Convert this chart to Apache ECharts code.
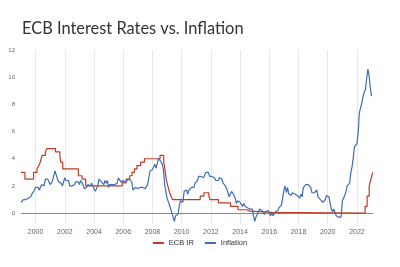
<!DOCTYPE html>
<html>
<head>
<meta charset="utf-8">
<script src="https://cdn.jsdelivr.net/npm/echarts@6/dist/echarts.min.js"></script>
<style>
  html, body { margin: 0; padding: 0; background: #fff; }
  #chart { width: 400px; height: 267px; }
</style>
</head>
<body>
<div id="chart"></div>
<script>
// ECB main refinancing rate: dates of each change (fractional year) and the new rate
const rateDates = [
  1999.0, 1999.27, 1999.86, 2000.09, 2000.22, 2000.32, 2000.44, 2000.67, 2000.77,
  2001.36, 2001.66, 2001.72, 2001.86, 2002.93, 2003.18, 2003.43,
  2005.93, 2006.19, 2006.44, 2006.6, 2006.77, 2006.94, 2007.19, 2007.45,
  2008.52, 2008.77, 2008.85, 2008.94, 2009.05, 2009.18, 2009.27, 2009.36,
  2011.27, 2011.52, 2011.86, 2011.94, 2012.52, 2013.35, 2013.86, 2014.44, 2014.69,
  2016.19, 2022.56, 2022.7, 2022.84, 2022.96, 2023.08, 2023.1
];
const rateValues = [
  3.0, 2.5, 3.0, 3.25, 3.5, 3.75, 4.25, 4.5, 4.75,
  4.5, 4.25, 3.75, 3.25, 2.75, 2.5, 2.0,
  2.25, 2.5, 2.75, 3.0, 3.25, 3.5, 3.75, 4.0,
  4.25, 3.75, 3.25, 2.5, 2.0, 1.5, 1.25, 1.0,
  1.25, 1.5, 1.25, 1.0, 0.75, 0.5, 0.25, 0.15, 0.05,
  0.0, 0.5, 1.25, 2.0, 2.5, 3.0, 3.0
];

// Monthly annual inflation, starting January 1999
const inflationStart = 1999;
const inflationValues = [
  0.8, 0.8, 1.0, 1.1, 1.0, 0.9, 1.1, 1.2, 1.2, 1.4, 1.5, 1.7,
  1.9, 2.0, 1.9, 1.7, 1.7, 2.1, 2.0, 2.0, 2.5, 2.4, 2.5, 2.5,
  2.1, 2.2, 2.4, 2.8, 3.1, 2.8, 2.5, 2.3, 2.2, 2.2, 2.0, 2.1,
  2.6, 2.4, 2.5, 2.4, 2.0, 1.9, 2.0, 2.1, 2.1, 2.3, 2.3, 2.3,
  2.1, 2.4, 2.5, 2.1, 1.8, 1.9, 1.9, 2.1, 2.2, 2.0, 2.2, 2.0,
  1.9, 1.6, 1.7, 2.0, 2.5, 2.4, 2.3, 2.3, 2.1, 2.4, 2.2, 2.4,
  1.9, 2.1, 2.1, 2.1, 2.0, 2.1, 2.2, 2.2, 2.6, 2.5, 2.3, 2.2,
  2.4, 2.3, 2.2, 2.4, 2.5, 2.5, 2.4, 2.3, 1.7, 1.6, 1.9, 1.9,
  1.8, 1.8, 1.9, 1.9, 1.9, 1.9, 1.8, 1.7, 2.1, 2.6, 3.1, 3.1,
  3.2, 3.3, 3.6, 3.3, 3.7, 4.0, 4.1, 3.8, 3.6, 3.2, 2.1, 1.6,
  1.1, 1.2, 0.6, 0.6, 0.0, -0.1, -0.6, -0.2, -0.3, -0.1, 0.5, 0.9,
  1.0, 0.8, 1.6, 1.6, 1.7, 1.4, 1.7, 1.6, 1.9, 1.9, 1.9, 2.2,
  2.3, 2.4, 2.7, 2.8, 2.7, 2.7, 2.6, 2.5, 3.0, 3.0, 3.0, 2.7,
  2.7, 2.7, 2.7, 2.6, 2.4, 2.4, 2.4, 2.6, 2.6, 2.5, 2.2, 2.2,
  2.0, 1.8, 1.7, 1.2, 1.4, 1.6, 1.6, 1.3, 1.1, 0.7, 0.9, 0.8,
  0.8, 0.7, 0.5, 0.7, 0.5, 0.5, 0.4, 0.4, 0.3, 0.4, 0.3, -0.2,
  -0.6, -0.3, -0.1, 0.0, 0.3, 0.2, 0.2, 0.1, -0.1, 0.1, 0.1, 0.2,
  0.3, -0.2, 0.0, -0.2, -0.1, 0.1, 0.2, 0.2, 0.4, 0.5, 0.6, 1.1,
  1.7, 2.0, 1.5, 1.9, 1.4, 1.3, 1.3, 1.5, 1.5, 1.4, 1.5, 1.3,
  1.3, 1.1, 1.4, 1.2, 1.9, 2.0, 2.1, 2.0, 2.1, 2.2, 1.9, 1.5,
  1.4, 1.5, 1.4, 1.7, 1.2, 1.3, 1.0, 1.0, 0.8, 0.7, 1.0, 1.3,
  1.4, 1.2, 0.7, 0.3, 0.1, 0.3, 0.4, -0.2, -0.3, -0.3, -0.3, -0.3,
  0.9, 0.9, 1.3, 1.6, 2.0, 1.9, 2.2, 3.0, 3.4, 4.1, 4.9, 5.0,
  5.1, 5.9, 7.4, 7.4, 8.1, 8.6, 8.9, 9.1, 9.9, 10.6, 10.1, 9.2,
  8.6
];

const yearLabels = [2000, 2002, 2004, 2006, 2008, 2010, 2012, 2014, 2016, 2018, 2020, 2022];
const yLabels = [0, 2, 4, 6, 8, 10, 12];

const rateData = rateDates.map((d, i) => [d, rateValues[i]]);
const inflationData = inflationValues.map((v, i) => [inflationStart + i / 12, v]);

const chart = echarts.init(document.getElementById('chart'), null, { renderer: 'canvas' });

chart.setOption({
  animation: false,
  title: {
    text: 'ECB Interest Rates vs. Inflation',
    left: 17,
    top: 16,
    textStyle: { fontFamily: 'Lato', fontSize: 16.4, fontWeight: 'normal', color: '#333' }
  },
  legend: {
    bottom: 15,
    left: 'center',
    itemWidth: 11,
    itemHeight: 2,
    itemGap: 11,
    icon: 'rect',
    textStyle: { fontFamily: 'Liberation Sans', fontSize: 7.5, color: '#333' },
    data: ['ECB IR', 'Inflation']
  },
  grid: { left: 21, right: 27, top: 50, bottom: 43 },
  xAxis: {
    type: 'value',
    min: 1999,
    max: 2023.1,
    axisLine: { show: false },
    axisTick: { show: false, customValues: yearLabels },
    axisLabel: {
      customValues: yearLabels,
      formatter: (v) => String(v),
      fontFamily: 'Liberation Sans',
      fontSize: 7,
      color: '#666',
      margin: 5
    },
    splitLine: { show: true, lineStyle: { color: '#e8e8e8', width: 1 } }
  },
  yAxis: {
    type: 'value',
    min: -0.8,
    max: 12,
    axisLine: { show: false },
    axisTick: { show: false, customValues: yLabels },
    axisLabel: {
      customValues: yLabels,
      fontFamily: 'Liberation Sans',
      fontSize: 6,
      color: '#666',
      margin: 6
    },
    splitLine: { show: false }
  },
  series: [
    {
      name: 'ECB IR',
      type: 'line',
      step: 'end',
      data: rateData,
      showSymbol: false,
      color: '#c23a24',
      lineStyle: { width: 1.2, color: '#c23a24' },
      z: 3,
      markLine: {
        silent: true,
        symbol: 'none',
        label: { show: false },
        lineStyle: { color: '#8a8a8a', width: 1, type: 'solid' },
        data: [{ yAxis: 0 }],
        z: 1
      }
    },
    {
      name: 'Inflation',
      type: 'line',
      data: inflationData,
      showSymbol: false,
      color: '#3f6db4',
      lineStyle: { width: 1.2, color: '#3f6db4' },
      z: 4
    }
  ]
});
</script>
</body>
</html>
